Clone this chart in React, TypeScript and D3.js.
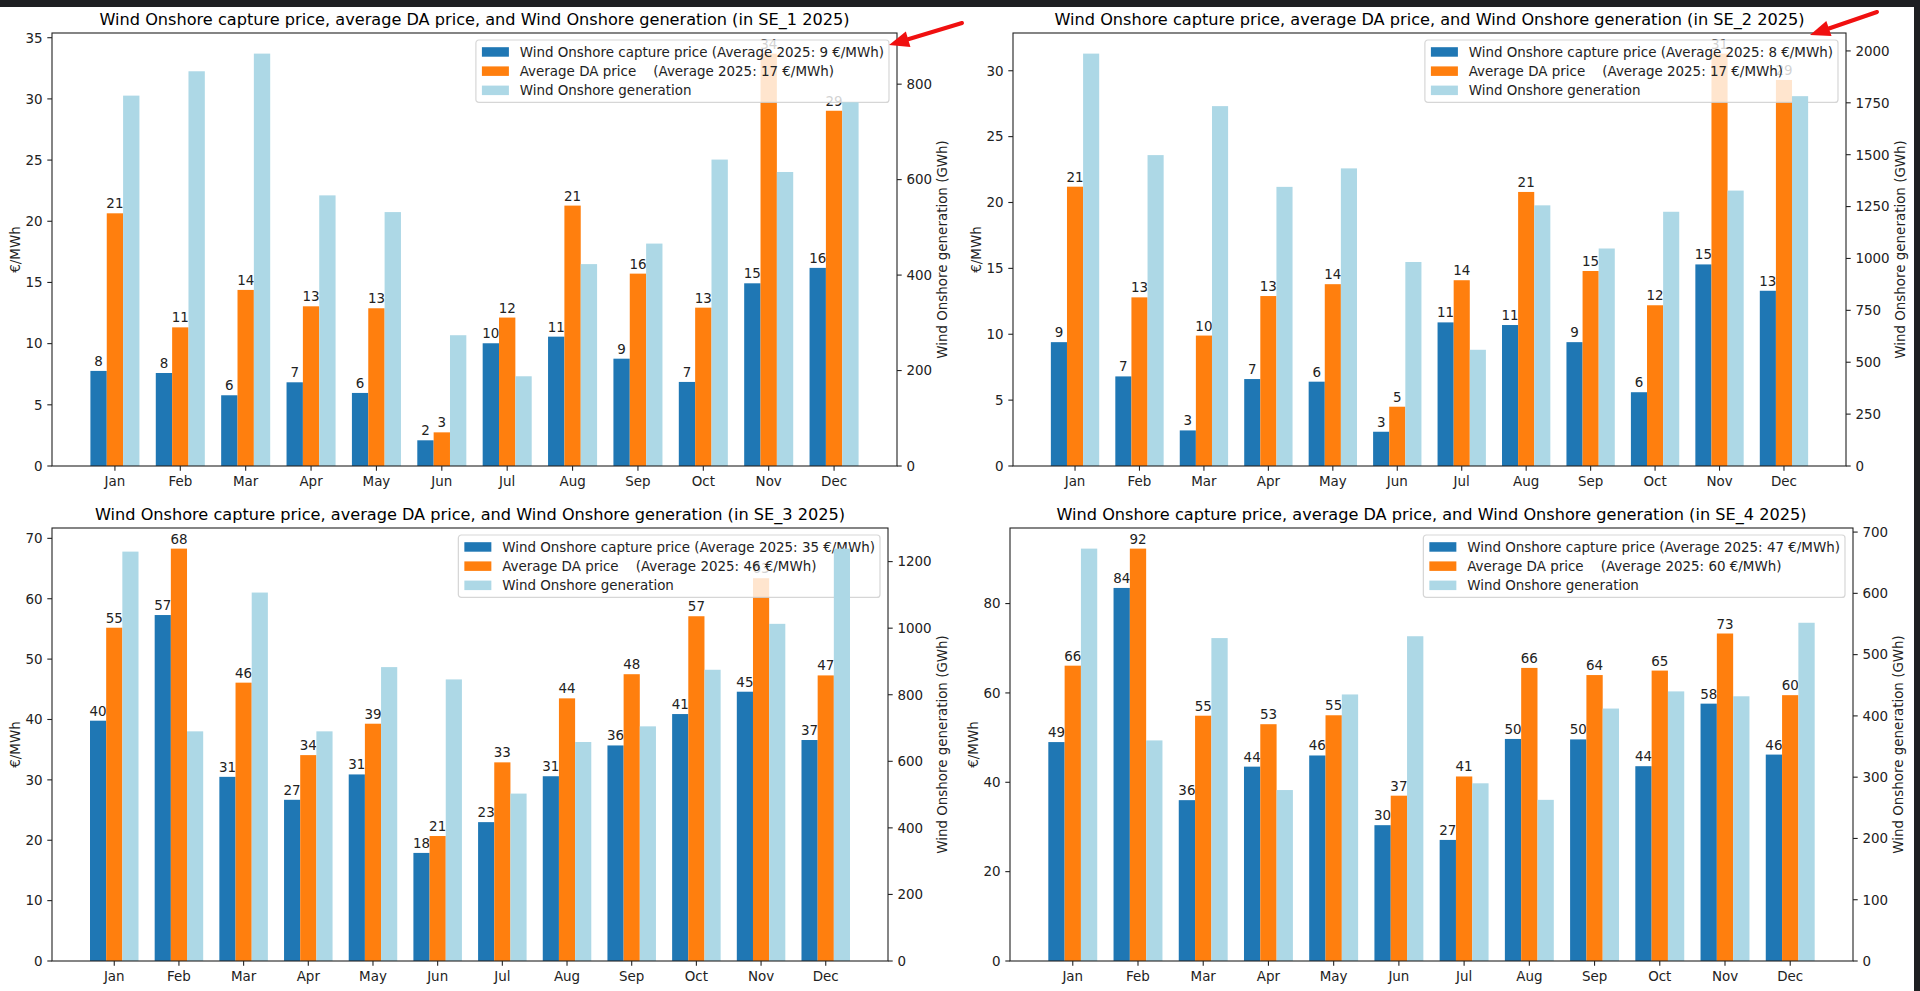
import React, { useEffect, useRef } from 'react';
import * as d3 from 'd3';

const months = ['Jan', 'Feb', 'Mar', 'Apr', 'May', 'Jun', 'Jul', 'Aug', 'Sep', 'Oct', 'Nov', 'Dec'];

// SE_1
const se1Capture = [7.77, 7.6, 5.78, 6.84, 5.97, 2.1, 10.03, 10.57, 8.77, 6.87, 14.93, 16.19];
const se1DA = [20.65, 11.33, 14.39, 13.05, 12.89, 2.75, 12.13, 21.28, 15.72, 12.94, 33.7, 29.03];
const se1Gen = [776, 827, 864, 567, 532, 274, 188, 423, 466, 642, 616, 762];
const se1Avg = [9, 17];
const se1PriceTicks = [0, 5, 10, 15, 20, 25, 30, 35];
const se1GenTicks = [0, 200, 400, 600, 800];

// SE_2
const se2Capture = [9.4, 6.8, 2.7, 6.6, 6.4, 2.6, 10.9, 10.7, 9.4, 5.6, 15.3, 13.3];
const se2DA = [21.2, 12.8, 9.9, 12.9, 13.8, 4.5, 14.1, 20.8, 14.8, 12.2, 31.3, 29.3];
const se2Gen = [1987, 1498, 1734, 1345, 1434, 983, 560, 1256, 1048, 1225, 1327, 1782];
const se2Avg = [8, 17];
const se2PriceTicks = [0, 5, 10, 15, 20, 25, 30];
const se2GenTicks = [0, 250, 500, 750, 1000, 1250, 1500, 1750, 2000];

// SE_3
const se3Capture = [39.8, 57.3, 30.5, 26.7, 30.9, 17.9, 23.0, 30.6, 35.7, 40.9, 44.6, 36.6];
const se3DA = [55.2, 68.3, 46.1, 34.1, 39.3, 20.7, 32.9, 43.5, 47.5, 57.1, 63.4, 47.3];
const se3Gen = [1230, 690, 1107, 690, 883, 846, 503, 658, 705, 875, 1013, 1239];
const se3Avg = [35, 46];
const se3PriceTicks = [0, 10, 20, 30, 40, 50, 60, 70];
const se3GenTicks = [0, 200, 400, 600, 800, 1000, 1200];

// SE_4
const se4Capture = [49.0, 83.5, 36.0, 43.5, 46.0, 30.4, 27.1, 49.7, 49.6, 43.6, 57.6, 46.2];
const se4DA = [66.1, 92.3, 54.9, 53.0, 55.0, 37.0, 41.3, 65.6, 64.0, 65.0, 73.3, 59.5];
const se4Gen = [673, 360, 527, 279, 435, 530, 290, 263, 412, 440, 432, 552];
const se4Avg = [47, 60];
const se4PriceTicks = [0, 20, 40, 60, 80];
const se4GenTicks = [0, 100, 200, 300, 400, 500, 600, 700];

const BLUE = '#1f77b4';
const ORANGE = '#ff7f0e';
const LIGHT = '#add8e6';
const FONT = '"DejaVu Sans", sans-serif';
const FS = 13.45;
const TITLE_FS = 16.15;
const TXT = '#222';
const TICK = 4.7;

interface Box { left: number; right: number; top: number; bottom: number }
interface Panel {
    zone: string;
    capture: number[];
    da: number[];
    gen: number[];
    avg: number[];
    priceTicks: number[];
    genTicks: number[];
    box: Box;
}

const panels: Panel[] = [
    { zone: 'SE_1', capture: se1Capture, da: se1DA, gen: se1Gen, avg: se1Avg, priceTicks: se1PriceTicks, genTicks: se1GenTicks,
      box: { left: 52, right: 897, top: 33, bottom: 466 } },
    { zone: 'SE_2', capture: se2Capture, da: se2DA, gen: se2Gen, avg: se2Avg, priceTicks: se2PriceTicks, genTicks: se2GenTicks,
      box: { left: 1013, right: 1846, top: 33, bottom: 466 } },
    { zone: 'SE_3', capture: se3Capture, da: se3DA, gen: se3Gen, avg: se3Avg, priceTicks: se3PriceTicks, genTicks: se3GenTicks,
      box: { left: 52, right: 888, top: 528, bottom: 961 } },
    { zone: 'SE_4', capture: se4Capture, da: se4DA, gen: se4Gen, avg: se4Avg, priceTicks: se4PriceTicks, genTicks: se4GenTicks,
      box: { left: 1010, right: 1853, top: 528, bottom: 961 } },
];

function drawPanel(svg: d3.Selection<SVGSVGElement, unknown, null, undefined>, p: Panel) {
    const { left, right, top, bottom } = p.box;
    const bw = 0.25;
    const x = d3.scaleLinear().domain([-0.9625, 11.9625]).range([left, right]);
    const yL = d3.scaleLinear().domain([0, d3.max([...p.capture, ...p.da])! * 1.05]).range([bottom, top]);
    const yR = d3.scaleLinear().domain([0, d3.max(p.gen)! * 1.05]).range([bottom, top]);
    const barW = x(bw) - x(0);

    const g = svg.append('g').style('font-family', FONT);

    // price bars + labels
    const priceSeries = [
        { vals: p.capture, off: -bw, color: BLUE },
        { vals: p.da, off: 0, color: ORANGE },
    ];
    priceSeries.forEach(s => {
        g.append('g').selectAll('rect').data(s.vals).enter().append('rect')
            .attr('x', (d, i) => x(i + s.off) - barW / 2)
            .attr('width', barW)
            .attr('y', d => yL(d))
            .attr('height', d => bottom - yL(d))
            .attr('fill', s.color);
        g.append('g').selectAll('text').data(s.vals).enter().append('text')
            .attr('x', (d, i) => x(i + s.off))
            .attr('y', d => yL(d) - 5)
            .attr('text-anchor', 'middle')
            .attr('fill', TXT)
            .style('font-size', `${FS}px`)
            .text(d => String(Math.round(d)));
    });

    // legend (on price axes, drawn under the generation bars)
    const entries = [
        { color: BLUE, label: `Wind Onshore capture price (Average 2025: ${p.avg[0]} €/MWh)` },
        { color: ORANGE, label: `Average DA price    (Average 2025: ${p.avg[1]} €/MWh)` },
        { color: LIGHT, label: 'Wind Onshore generation' },
    ];
    const lg = g.append('g');
    const frame = lg.append('rect');
    const pad = 5;
    const handleW = 27;
    const rowH = 19.2;
    let textW = 0;
    entries.forEach((e, i) => {
        const cy = pad + 7 + i * rowH;
        lg.append('rect')
            .attr('x', pad + 1)
            .attr('y', cy - 4.8)
            .attr('width', handleW)
            .attr('height', 9.5)
            .attr('fill', e.color);
        const t = lg.append('text')
            .attr('x', pad + 1 + handleW + 10.8)
            .attr('y', cy)
            .attr('dy', '0.36em')
            .attr('fill', TXT)
            .attr('xml:space', 'preserve')
            .style('white-space', 'pre')
            .style('font-size', `${FS}px`)
            .text(e.label);
        textW = Math.max(textW, (t.node() as SVGTextElement).getComputedTextLength());
    });
    const lgW = pad + 1 + handleW + 10.8 + textW + pad;
    const lgH = pad * 2 + 14 + rowH * 2;
    frame.attr('x', 0).attr('y', 0).attr('width', lgW).attr('height', lgH)
        .attr('rx', 3).attr('fill', '#fff').attr('fill-opacity', 0.8)
        .attr('stroke', '#ccc').attr('stroke-opacity', 0.8).attr('stroke-width', 1.2);
    lg.attr('transform', `translate(${right - 8 - lgW},${top + 7})`);

    // generation bars on the twin axis (drawn on top)
    g.append('g').selectAll('rect').data(p.gen).enter().append('rect')
        .attr('x', (d, i) => x(i + bw) - barW / 2)
        .attr('width', barW)
        .attr('y', d => yR(d))
        .attr('height', d => bottom - yR(d))
        .attr('fill', LIGHT);

    // spines
    g.append('rect')
        .attr('x', left).attr('y', top)
        .attr('width', right - left).attr('height', bottom - top)
        .attr('fill', 'none').attr('stroke', '#222').attr('stroke-width', 1.1);

    // x ticks
    const xt = g.append('g');
    months.forEach((m, i) => {
        xt.append('line').attr('x1', x(i)).attr('x2', x(i)).attr('y1', bottom).attr('y2', bottom + TICK)
            .attr('stroke', '#222').attr('stroke-width', 1.1);
        xt.append('text').attr('x', x(i)).attr('y', bottom + TICK * 2).attr('dy', '0.76em')
            .attr('text-anchor', 'middle').attr('fill', TXT).style('font-size', `${FS}px`).text(m);
    });

    // left ticks
    p.priceTicks.forEach(v => {
        g.append('line').attr('x1', left - TICK).attr('x2', left).attr('y1', yL(v)).attr('y2', yL(v))
            .attr('stroke', '#222').attr('stroke-width', 1.1);
        g.append('text').attr('x', left - TICK * 2).attr('y', yL(v)).attr('dy', '0.36em')
            .attr('text-anchor', 'end').attr('fill', TXT).style('font-size', `${FS}px`).text(String(v));
    });

    // right ticks
    p.genTicks.forEach(v => {
        g.append('line').attr('x1', right).attr('x2', right + TICK).attr('y1', yR(v)).attr('y2', yR(v))
            .attr('stroke', '#222').attr('stroke-width', 1.1);
        g.append('text').attr('x', right + TICK * 2).attr('y', yR(v)).attr('dy', '0.36em')
            .attr('text-anchor', 'start').attr('fill', TXT).style('font-size', `${FS}px`).text(String(v));
    });

    // axis labels
    const midY = (top + bottom) / 2;
    const leftLabelX = left - 37;
    g.append('text')
        .attr('transform', `translate(${leftLabelX},${midY}) rotate(-90)`)
        .attr('text-anchor', 'middle').attr('dy', '0.36em')
        .attr('fill', TXT).style('font-size', `${FS}px`).text('€/MWh');
    const maxTick = String(p.genTicks[p.genTicks.length - 1]).length;
    const rightLabelX = right + TICK * 2 + maxTick * 8.55 + 10.5;
    g.append('text')
        .attr('transform', `translate(${rightLabelX},${midY}) rotate(-90)`)
        .attr('text-anchor', 'middle').attr('dy', '0.36em')
        .attr('fill', TXT).style('font-size', `${FS}px`).text('Wind Onshore generation (GWh)');

    // title
    g.append('text')
        .attr('x', (left + right) / 2).attr('y', top - 8)
        .attr('text-anchor', 'middle').attr('fill', '#000')
        .style('font-size', `${TITLE_FS}px`)
        .text(`Wind Onshore capture price, average DA price, and Wind Onshore generation (in ${p.zone} 2025)`);
}

function drawArrow(svg: d3.Selection<SVGSVGElement, unknown, null, undefined>, x1: number, y1: number, x2: number, y2: number) {
    const ang = Math.atan2(y2 - y1, x2 - x1);
    const headL = 20;
    const headW = 8;
    const bx = x2 - headL * Math.cos(ang);
    const by = y2 - headL * Math.sin(ang);
    svg.append('line').attr('x1', x1).attr('y1', y1).attr('x2', bx).attr('y2', by)
        .attr('stroke', '#f01010').attr('stroke-width', 4).attr('stroke-linecap', 'round');
    const px = -Math.sin(ang) * headW;
    const py = Math.cos(ang) * headW;
    svg.append('polygon')
        .attr('points', `${x2},${y2} ${bx + px},${by + py} ${bx - px},${by - py}`)
        .attr('fill', '#f01010');
}

export default function App() {
    const svgRef = useRef<SVGSVGElement>(null);

    useEffect(() => {
        if (!svgRef.current) return;
        const svg = d3.select(svgRef.current);
        svg.selectAll('*').remove();

        svg.append('rect').attr('width', 1920).attr('height', 991).attr('fill', '#fff');
        // dark notebook frame
        svg.append('rect').attr('x', 0).attr('y', 0).attr('width', 1920).attr('height', 7).attr('fill', '#1e1f22');
        svg.append('rect').attr('x', 1914).attr('y', 0).attr('width', 6).attr('height', 991).attr('fill', '#1e1f22');

        panels.forEach(p => drawPanel(svg, p));

        drawArrow(svg, 962, 23, 889, 45);
        drawArrow(svg, 1877, 12, 1810, 35);
    }, []);

    return (
        <div style={{ position: 'absolute', left: 0, top: 0 }}>
            <svg ref={svgRef} width={1920} height={991} style={{ display: 'block' }} />
        </div>
    );
}
